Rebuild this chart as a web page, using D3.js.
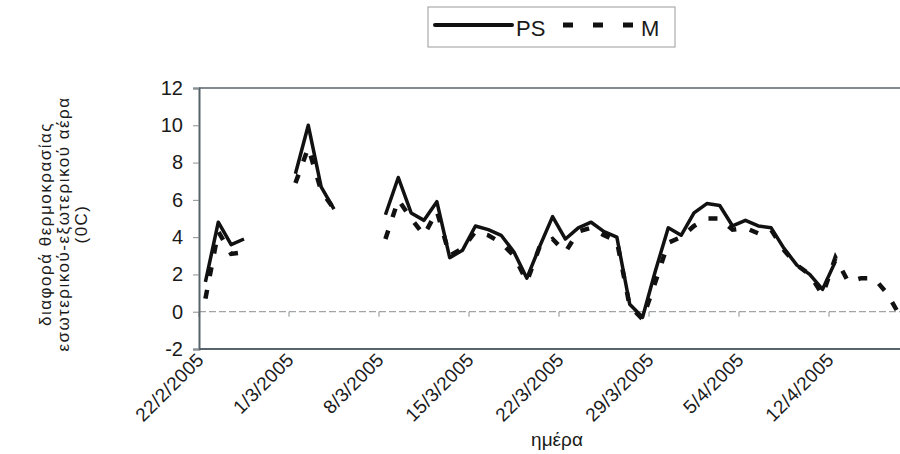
<!DOCTYPE html>
<html>
<head>
<meta charset="utf-8">
<script src="https://cdn.jsdelivr.net/npm/d3@7"></script>
<style>
body { margin: 0; background: #fff; }
text { font-family: "Liberation Sans", Arial, sans-serif; fill: #1a1a1a; }
</style>
</head>
<body>
<div class="chart"></div>
<script>
// one category per day, 22/2/2005 .. 18/4/2005
let days = d3.timeDay.range(new Date(2005, 1, 22), new Date(2005, 3, 19));
let tickLabels = ['22/2/2005', '1/3/2005', '8/3/2005', '15/3/2005', '22/3/2005', '29/3/2005', '5/4/2005', '12/4/2005'];
let yTicks = [-2, 0, 2, 4, 6, 8, 10, 12];

// temperature difference, null = no measurement
let ps = [1.6, 4.8, 3.6, 3.9, null, null, null,
	7.4, 10.0, 6.7, 5.5, null, null, null,
	5.2, 7.2, 5.3, 4.9, 5.9, 2.9, 3.3,
	4.6, 4.4, 4.1, 3.2, 1.8, 3.5, 5.1,
	3.9, 4.5, 4.8, 4.3, 4.0, 0.4, -0.3,
	2.2, 4.5, 4.1, 5.3, 5.8, 5.7, 4.6,
	4.9, 4.6, 4.5, 3.4, 2.5, 2.0, 1.2,
	2.7, null, null, null, null, null, null];
let m = [0.7, 4.3, 3.1, 3.2, null, null, null,
	6.9, 8.8, 6.5, 5.5, null, null, null,
	3.9, 6.0, 5.0, 4.1, 5.4, 3.0, 3.4,
	4.3, 4.1, 3.7, 3.0, 1.6, 3.5, 3.9,
	3.2, 4.3, 4.5, 4.1, 3.8, 0.3, -0.4,
	1.6, 3.7, 4.0, 4.6, 5.0, 5.0, 4.4,
	4.5, 4.2, 4.4, 3.3, 2.5, 2.0, 0.9,
	2.9, 1.6, 1.8, 1.8, 1.0, -0.2, null];

let plotLeft = 199, plotTop = 88, plotBottom = 349;
let dayWidth = 90 / 7;

let svg = d3.select('.chart')
	.append('svg')
	.attr('width', 900)
	.attr('height', 454)
	.style('display', 'block');

let xScale = d3.scaleBand()
	.domain(d3.range(days.length))
	.range([plotLeft, plotLeft + days.length * dayWidth]);

let yScale = d3.scaleLinear()
	.domain([-2, 12])
	.range([plotBottom, plotTop]);

let half = xScale.bandwidth() / 2;
let weekIdx = d3.range(0, days.length, 7).slice(0, tickLabels.length);

// frame: top and bottom lines
svg.append('line')
	.attr('x1', plotLeft).attr('x2', 900)
	.attr('y1', yScale(12)).attr('y2', yScale(12))
	.style('stroke', '#56636a').style('stroke-width', 1.5);
svg.append('line')
	.attr('x1', plotLeft).attr('x2', 900)
	.attr('y1', yScale(-2)).attr('y2', yScale(-2))
	.style('stroke', '#56636a').style('stroke-width', 2);

// zero line with week ticks
svg.append('line')
	.attr('x1', plotLeft).attr('x2', 900)
	.attr('y1', yScale(0)).attr('y2', yScale(0))
	.style('stroke', '#8a8f92').style('stroke-width', 1)
	.style('stroke-dasharray', '7,3');

let zeroAxis = svg.append('g')
	.attr('transform', 'translate(' + (-half) + ', ' + yScale(0) + ')')
	.call(d3.axisBottom(xScale).tickValues(weekIdx).tickSize(5).tickFormat(''));
zeroAxis.select('.domain').remove();
zeroAxis.selectAll('line').style('stroke', '#8a8f92');

// x labels, rotated, ending at the tick
let xAxis = svg.append('g')
	.attr('transform', 'translate(' + (-half) + ', ' + yScale(-2) + ')')
	.call(d3.axisBottom(xScale).tickValues(weekIdx).tickSize(0)
		.tickFormat((d, i) => tickLabels[i]));
xAxis.select('.domain').remove();
xAxis.selectAll('text')
	.attr('y', 0).attr('dy', 0)
	.attr('x', 0)
	.attr('transform', 'translate(6, 12) rotate(-45)')
	.style('text-anchor', 'end')
	.style('font-size', '19px')
	.style('letter-spacing', '0.3px')
	.style('font-family', '"Liberation Sans", Arial, sans-serif')
	.style('fill', '#1a1a1a');

// y axis
let yAxis = svg.append('g')
	.attr('transform', 'translate(' + plotLeft + ', 0)')
	.call(d3.axisLeft(yScale).tickValues(yTicks).tickSize(6).tickPadding(10)
		.tickFormat(d => String(d)));
yAxis.select('.domain').style('stroke', '#56636a').style('stroke-width', 2);
yAxis.selectAll('line').style('stroke', '#8a8f92');
yAxis.selectAll('text')
	.style('font-size', '20px')
	.style('font-family', '"Liberation Sans", Arial, sans-serif')
	.style('fill', '#1a1a1a');

// series
let line = d3.line()
	.defined(d => d != null)
	.x((d, i) => xScale(i) + half)
	.y(d => yScale(d));

svg.append('path')
	.datum(m)
	.attr('d', line)
	.style('fill', 'none')
	.style('stroke', '#111')
	.style('stroke-width', 4.5)
	.style('stroke-dasharray', '9,14');

svg.append('path')
	.datum(ps)
	.attr('d', line)
	.style('fill', 'none')
	.style('stroke', '#111')
	.style('stroke-width', 3.5)
	.style('stroke-linejoin', 'round');

// axis titles
svg.append('text')
	.attr('x', 557).attr('y', 446)
	.attr('text-anchor', 'middle')
	.style('font-size', '19px')
	.text('ημέρα');

let yTitle = ['διαφορά θερμοκρασίας', 'εσωτερικού-εξωτερικού αέρα', '(0C)'];
svg.selectAll('.ytitle')
	.data(yTitle)
	.enter()
	.append('text')
	.attr('class', 'ytitle')
	.attr('transform', (d, i) => 'translate(' + (51 + i * 18) + ', 224) rotate(-90)')
	.attr('text-anchor', 'middle')
	.style('font-size', '17px')
	.style('letter-spacing', '1.5px')
	.text(d => d);

// legend
let legend = svg.append('g');
legend.append('rect')
	.attr('x', 428).attr('y', 7)
	.attr('width', 247).attr('height', 40)
	.style('fill', '#fff')
	.style('stroke', '#9a9a9a').style('stroke-width', 1);
legend.append('line')
	.attr('x1', 435).attr('x2', 512).attr('y1', 25).attr('y2', 25)
	.style('stroke', '#111').style('stroke-width', 4)
	.style('stroke-linecap', 'round');
legend.append('text')
	.attr('x', 516).attr('y', 36)
	.style('font-size', '22px')
	.text('PS');
legend.append('line')
	.attr('x1', 563).attr('x2', 634).attr('y1', 25).attr('y2', 25)
	.style('stroke', '#111').style('stroke-width', 5)
	.style('stroke-dasharray', '10,20');
legend.append('text')
	.attr('x', 641).attr('y', 36)
	.style('font-size', '22px')
	.text('M');
</script>
</body>
</html>
